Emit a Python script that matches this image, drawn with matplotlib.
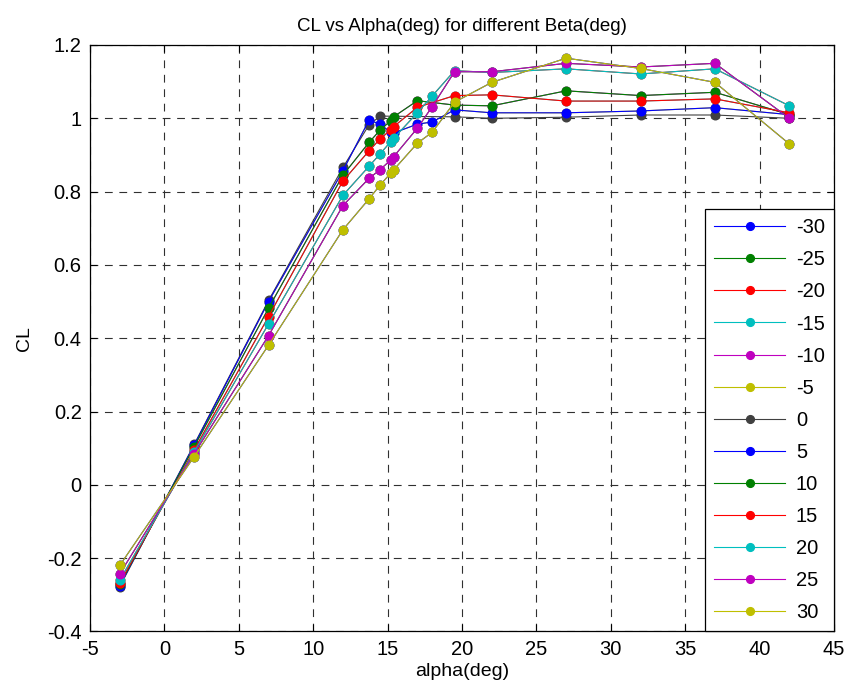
import matplotlib
matplotlib.use("Agg")
import matplotlib.pyplot as plt
from matplotlib.ticker import FuncFormatter, MultipleLocator

plt.rcParams['font.family'] = ['Liberation Sans', 'DejaVu Sans']
plt.rcParams['axes.unicode_minus'] = False

# Beta values (legend order)
betas = [-30, -25, -20, -15, -10, -5, 0, 5, 10, 15, 20, 25, 30]

# MATLAB-style colour cycle
colors = ['#0000FF', '#008000', '#FF0000', '#00BFBF', '#BF00BF', '#BFBF00', '#404040']

# Alpha grids per |beta| (deg)
alpha_full = [-3, 2, 7, 12, 13.75, 14.5, 15.2, 15.4, 17, 18, 19.5, 22, 27, 32, 37, 42]
alpha_no18 = [-3, 2, 7, 12, 13.75, 14.5, 15.2, 15.4, 17, 19.5, 22, 27, 32, 37, 42]
alpha_b0 = [-3, 2, 7, 12, 13.75, 14.5, 19.5, 22, 27, 32, 37, 42]

# CL, per |beta| (+beta and -beta curves coincide)
cl_b0 = [-0.278, 0.110, 0.503, 0.866, 0.982, 1.006, 1.004, 1.000, 1.003, 1.009, 1.009, 1.000]
cl_b5 = [-0.275, 0.108, 0.500, 0.857, 0.995, 0.984, 0.962, 0.960, 0.984, 0.990, 1.023, 1.015, 1.015, 1.020, 1.029, 1.010]
cl_b10 = [-0.272, 0.104, 0.482, 0.845, 0.934, 0.968, 0.993, 1.004, 1.048, 1.036, 1.034, 1.075, 1.062, 1.071, 1.010]
cl_b15 = [-0.268, 0.095, 0.459, 0.829, 0.911, 0.944, 0.968, 0.977, 1.030, 1.062, 1.064, 1.047, 1.047, 1.053, 1.015]
cl_b20 = [-0.260, 0.090, 0.439, 0.790, 0.869, 0.903, 0.936, 0.945, 1.015, 1.061, 1.130, 1.125, 1.135, 1.121, 1.135, 1.034]
cl_b25 = [-0.243, 0.085, 0.407, 0.762, 0.836, 0.860, 0.886, 0.895, 0.973, 1.032, 1.127, 1.127, 1.150, 1.140, 1.150, 1.000]
cl_b30 = [-0.220, 0.077, 0.381, 0.696, 0.780, 0.818, 0.850, 0.859, 0.932, 0.962, 1.044, 1.098, 1.164, 1.136, 1.098, 0.930]

curves = {
    0: (alpha_b0, cl_b0),
    5: (alpha_full, cl_b5),
    10: (alpha_no18, cl_b10),
    15: (alpha_no18, cl_b15),
    20: (alpha_full, cl_b20),
    25: (alpha_full, cl_b25),
    30: (alpha_full, cl_b30),
}

fig = plt.figure(figsize=(8.49, 6.96), dpi=100)
ax = fig.add_axes([90 / 849, 1 - 631.4 / 696, (834 - 90) / 849, (631.4 - 45) / 696])

for i, b in enumerate(betas):
    a, cl = curves[abs(b)]
    c = colors[i % len(colors)]
    ax.plot(a, cl, '-', color=c, lw=0.8, marker='o', markersize=6.2,
            markerfacecolor=c, markeredgecolor=c, label=str(b))

ax.set_xlim(-5, 45)
ax.set_ylim(-0.4, 1.2)
ax.xaxis.set_major_locator(MultipleLocator(5))
ax.yaxis.set_major_locator(MultipleLocator(0.2))
ax.xaxis.set_major_formatter(FuncFormatter(lambda v, p: '%g' % round(v, 6)))
ax.yaxis.set_major_formatter(FuncFormatter(lambda v, p: '%g' % round(v, 6)))
ax.tick_params(direction='in', length=5, top=True, right=True, labelsize=14.5, width=0.8, pad=6)
ax.grid(True, color='#303030', linestyle=(0, (7, 6)), linewidth=0.8)
for s in ax.spines.values():
    s.set_linewidth(0.9)

ax.set_title('CL vs Alpha(deg) for different Beta(deg)', fontsize=13.5, pad=10)
ax.set_xlabel('alpha(deg)', fontsize=14, labelpad=3)
ax.set_ylabel('CL', fontsize=14, labelpad=10)

leg = ax.legend(loc='lower right', fontsize=14.5, frameon=True, fancybox=False,
                edgecolor='black', framealpha=1, borderaxespad=0,
                handlelength=3.5, handletextpad=0.55, labelspacing=0.65,
                borderpad=0.45, markerscale=0.9)
leg.get_frame().set_linewidth(0.9)

fig.savefig('out.png', dpi=100)
